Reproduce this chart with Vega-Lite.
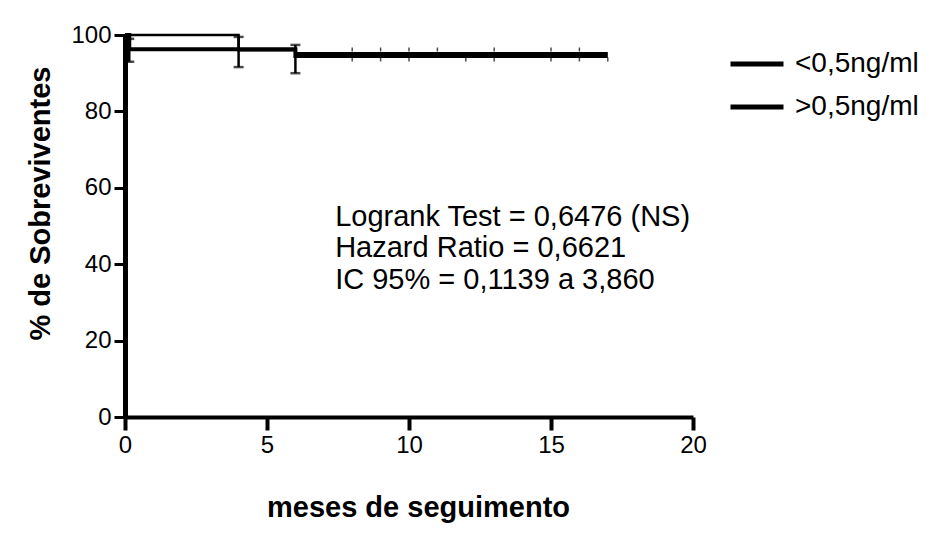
{
  "$schema": "https://vega.github.io/schema/vega-lite/v6.json",
  "width": 568,
  "height": 382,
  "autosize": {"type": "none"},
  "padding": {"left": 125, "top": 35, "right": 242, "bottom": 119},
  "background": "white",
  "config": {
    "view": {"stroke": null},
    "font": "Liberation Sans",
    "axis": {
      "grid": false,
      "domainColor": "black",
      "tickColor": "black",
      "labelColor": "black",
      "titleColor": "black",
      "labelFont": "Liberation Sans",
      "titleFont": "Liberation Sans",
      "labelFontSize": 24,
      "titleFontSize": 29,
      "titleFontWeight": "bold",
      "labelFlush": false
    },
    "axisX": {"domainWidth": 4, "tickWidth": 4, "tickSize": 13, "labelPadding": 3,
              "titleX": 293, "titleY": 99, "titleBaseline": "alphabetic", "titleAlign": "center"},
    "axisY": {"domainWidth": 5, "tickWidth": 3, "tickSize": 11, "labelPadding": 3,
              "titleX": -76, "titleY": 168, "titleBaseline": "alphabetic", "titleAlign": "center", "titleAngle": 270},
    "legend": {
      "orient": "none",
      "legendX": 603,
      "legendY": 0,
      "symbolType": "stroke",
      "symbolSize": 2809,
      "symbolStrokeWidth": 5,
      "symbolStrokeColor": "black",
      "labelFontSize": 28,
      "labelColor": "black",
      "labelFont": "Liberation Sans",
      "rowPadding": -25,
      "labelOffset": 9
    }
  },
  "datasets": {
    "curves": [
      {"group": "<0,5ng/ml", "t": 0, "s": 100},
      {"group": "<0,5ng/ml", "t": 4, "s": 96},
      {"group": "<0,5ng/ml", "t": 6, "s": 95.2},
      {"group": "<0,5ng/ml", "t": 17, "s": 95.2},
      {"group": ">0,5ng/ml", "t": 0, "s": 100},
      {"group": ">0,5ng/ml", "t": 0.15, "s": 96.3},
      {"group": ">0,5ng/ml", "t": 6, "s": 94.5},
      {"group": ">0,5ng/ml", "t": 17, "s": 94.5}
    ],
    "errs": [
      {"t": 0.15, "lo": 93, "hi": 99},
      {"t": 4, "lo": 91.6, "hi": 99.5},
      {"t": 6, "lo": 90, "hi": 97.4}
    ],
    "cens": [
      {"t": 8, "s": 96.2}, {"t": 9, "s": 96.2}, {"t": 10, "s": 96.2}, {"t": 11, "s": 96.2},
      {"t": 13, "s": 96.2}, {"t": 15, "s": 96.2}, {"t": 16, "s": 96.2},
      {"t": 8, "s": 93.6}, {"t": 9, "s": 93.6}, {"t": 10, "s": 93.6}, {"t": 12, "s": 93.6},
      {"t": 13, "s": 93.6}, {"t": 15, "s": 93.6}, {"t": 16, "s": 93.6}, {"t": 17, "s": 93.6}
    ],
    "notes": [
      {"t": 7.4, "s": 50.0, "label": "Logrank Test = 0,6476 (NS)"},
      {"t": 7.4, "s": 41.8, "label": "Hazard Ratio = 0,6621"},
      {"t": 7.4, "s": 33.6, "label": "IC 95% = 0,1139 a 3,860"}
    ]
  },
  "layer": [
    {
      "data": {"name": "curves"},
      "transform": [{"calculate": "datum.group", "as": "lineGroup"}],
      "mark": {"type": "line", "interpolate": "step-after"},
      "encoding": {
        "x": {"field": "t", "type": "quantitative", "title": "meses de seguimento",
              "scale": {"domain": [0, 20], "nice": false, "zero": false},
              "axis": {"values": [0, 5, 10, 15, 20]}},
        "y": {"field": "s", "type": "quantitative", "title": "% de Sobreviventes",
              "scale": {"domain": [0, 100], "nice": false},
              "axis": {"values": [0, 20, 40, 60, 80, 100]}},
        "color": {"field": "group", "type": "nominal", "scale": {"range": ["black", "black"]},
                  "legend": {"title": null}},
        "strokeWidth": {"field": "lineGroup", "type": "nominal", "scale": {"range": [2.5, 4]}, "legend": null}
      }
    },
    {
      "data": {"name": "errs"},
      "mark": {"type": "errorbar", "ticks": {"size": 10, "thickness": 2.5, "color": "black"},
               "rule": {"strokeWidth": 2.5, "color": "black"}},
      "encoding": {
        "x": {"field": "t", "type": "quantitative", "title": "meses de seguimento"},
        "y": {"field": "lo", "type": "quantitative", "title": "% de Sobreviventes"},
        "y2": {"field": "hi"}
      }
    },
    {
      "data": {"name": "cens"},
      "mark": {"type": "tick", "orient": "vertical", "size": 4, "thickness": 1.5, "color": "black"},
      "encoding": {
        "x": {"field": "t", "type": "quantitative", "title": "meses de seguimento"},
        "y": {"field": "s", "type": "quantitative", "title": "% de Sobreviventes"}
      }
    },
    {
      "data": {"name": "notes"},
      "mark": {"type": "text", "align": "left", "baseline": "alphabetic", "fontSize": 29, "color": "black", "font": "Liberation Sans"},
      "encoding": {
        "x": {"field": "t", "type": "quantitative", "title": "meses de seguimento"},
        "y": {"field": "s", "type": "quantitative", "title": "% de Sobreviventes"},
        "text": {"field": "label"}
      }
    }
  ]
}
